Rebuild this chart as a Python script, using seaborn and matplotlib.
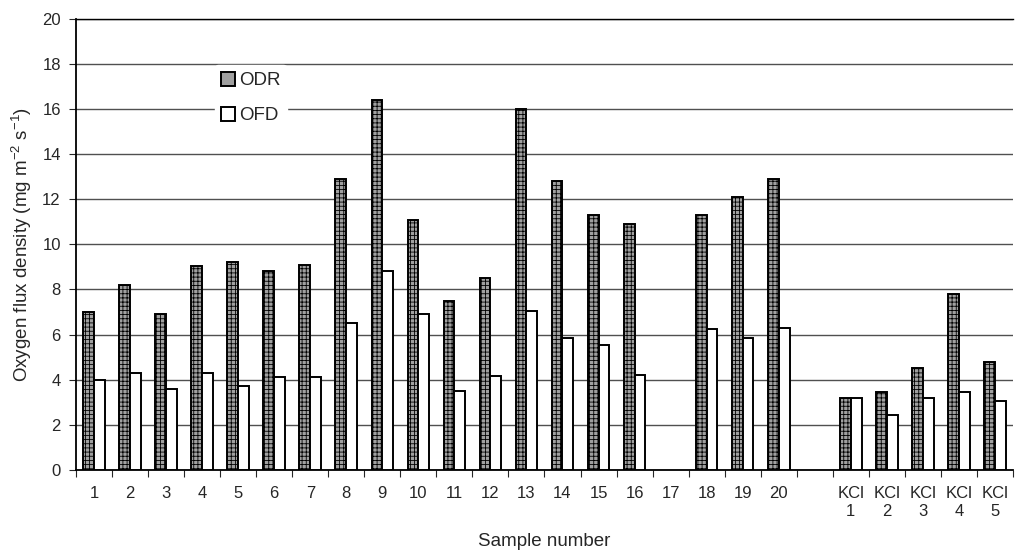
import numpy as np
import pandas as pd
import matplotlib
matplotlib.use("Agg")
import matplotlib.pyplot as plt
import seaborn as sns
from matplotlib.ticker import FixedLocator

# Sample labels (gap category between 20 and KCl samples)
samples = [str(i) for i in range(1, 21)] + [" "] + ["KCl\n1", "KCl\n2", "KCl\n3", "KCl\n4", "KCl\n5"]

# Oxygen diffusion rate
odr = [7.0, 8.2, 6.9, 9.05, 9.2, 8.8, 9.1, 12.9, 16.4, 11.1,
       7.5, 8.5, 16.0, 12.8, 11.3, 10.9, np.nan, 11.3, 12.1, 12.9,
       np.nan, 3.2, 3.45, 4.5, 7.8, 4.8]
# Oxygen flux density
ofd = [4.0, 4.3, 3.6, 4.3, 3.7, 4.1, 4.1, 6.5, 8.8, 6.9,
       3.5, 4.15, 7.05, 5.85, 5.55, 4.2, np.nan, 6.25, 5.85, 6.3,
       np.nan, 3.2, 2.45, 3.2, 3.45, 3.05]

df = pd.DataFrame({
    "sample": samples * 2,
    "value": odr + ofd,
    "series": ["ODR"] * len(samples) + ["OFD"] * len(samples),
})

sns.set_style("white")
plt.rcParams["font.family"] = ["Liberation Sans", "DejaVu Sans"]
plt.rcParams["mathtext.default"] = "regular"
plt.rcParams["hatch.linewidth"] = 0.6

fig, ax = plt.subplots(figsize=(10.18, 5.56), dpi=100)
fig.subplots_adjust(left=0.0747, right=0.995, top=0.966, bottom=0.155)

sns.barplot(data=df, x="sample", y="value", hue="series", order=samples,
            hue_order=["ODR", "OFD"], palette={"ODR": "#a0a0a0", "OFD": "white"},
            width=0.6, edgecolor="black", linewidth=1.4, errorbar=None,
            ax=ax, zorder=3)

# dotted grey pattern on ODR bars
for bar in ax.containers[0]:
    bar.set_hatch("++++")
    bar.set_edgecolor("black")

ax.set_ylim(0, 20)
ax.set_xlim(-0.5, len(samples) - 0.5)
ax.set_yticks(range(0, 21, 2))
ax.yaxis.grid(True, color="#505050", linewidth=1.0, zorder=0)
ax.set_axisbelow(True)

ax.xaxis.set_minor_locator(FixedLocator(np.arange(-0.5, len(samples), 1)))
ax.tick_params(axis="x", which="major", length=0, labelsize=12, pad=12)
ax.tick_params(axis="x", which="minor", length=5, width=0.8, direction="out", bottom=True)
ax.tick_params(axis="y", length=5, width=0.8, direction="out", left=True, labelsize=12, pad=6)

ax.spines["right"].set_visible(False)
for s in ["top", "left", "bottom"]:
    ax.spines[s].set_color("black")
ax.spines["left"].set_linewidth(1.3)
ax.spines["bottom"].set_linewidth(1.3)
ax.spines["top"].set_linewidth(1.0)

ax.set_xlabel("Sample number", fontsize=13.5, labelpad=10)
ax.set_ylabel("Oxygen flux density (mg m$^{-2}$ s$^{-1}$)", fontsize=13.5, labelpad=6)

leg = ax.legend(loc="upper left", bbox_to_anchor=(0.138, 0.918), frameon=True,
                fontsize=13.5, handlelength=0.75, handleheight=0.75,
                handletextpad=0.2, labelspacing=0.95, borderpad=0.35)
leg.get_frame().set_edgecolor("white")
leg.get_frame().set_facecolor("white")
leg.get_frame().set_alpha(1)
leg.set_title(None)

fig.savefig("out.png", dpi=100)
